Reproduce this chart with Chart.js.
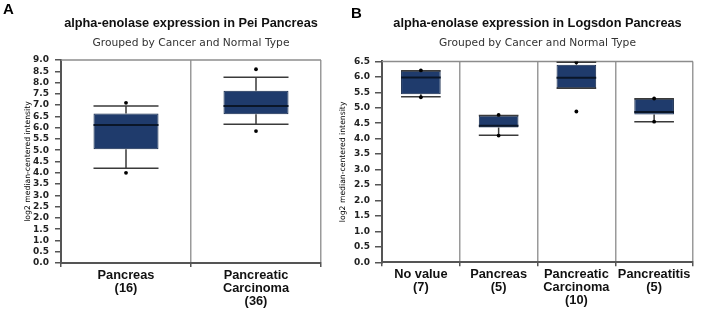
<!DOCTYPE html>
<html><head><meta charset="utf-8">
<script src="https://cdn.jsdelivr.net/npm/chart.js@4.4.1/dist/chart.umd.min.js"></script>
<style>
html,body{margin:0;padding:0;background:#fff;width:701px;height:309px;overflow:hidden;}
.wrap{position:absolute;top:0;height:309px;}
.lbl{position:absolute;z-index:2;font:bold 15px "Liberation Sans",Arial,sans-serif;color:#000;line-height:15px;}
</style></head><body>
<div class="wrap" style="left:0;width:330px"><canvas id="cA" width="330" height="309"></canvas></div>
<div class="wrap" style="left:330px;width:371px"><canvas id="cB" width="371" height="309"></canvas></div>
<div class="lbl" style="left:3px;top:1px">A</div>
<div class="lbl" style="left:351px;top:5px">B</div>
<script>
const titleA = "alpha-enolase expression in Pei Pancreas";
const titleB = "alpha-enolase expression in Logsdon Pancreas";
const subtitleText = "Grouped by Cancer and Normal Type";
const yTitleText = "log2 median-centered intensity";

// Panel A
const catsA = [["Pancreas","(16)"],["Pancreatic","Carcinoma","(36)"]];
const whiskerLowA  = [4.20, 6.15];
const q1A          = [5.04, 6.59];
const medianA      = [6.12, 6.96];
const q3A          = [6.63, 7.64];
const whiskerHighA = [6.96, 8.23];
const outlierLowA  = [4.00, 5.85];
const outlierHighA = [7.10, 8.59];
const yMaxA = 9.0;

// Panel B
const catsB = [["No value","(7)"],["Pancreas","(5)"],["Pancreatic","Carcinoma","(10)"],["Pancreatitis","(5)"]];
const whiskerLowB  = [5.36, 4.11, 5.63, 4.55];
const q1B          = [5.44, 4.36, 5.63, 4.78];
const medianB      = [5.98, 4.42, 5.97, 4.86];
const q3B          = [6.20, 4.75, 6.39, 5.29];
const whiskerHighB = [6.20, 4.75, 6.47, 5.29];
const outlierLowB  = [5.34, 4.10, 4.88, 4.55];
const outlierHighB = [6.21, 4.77, 6.47, 5.30];
const yMaxB = 6.5;
const yStep = 0.5;

function makeBoxChart(id, o) {
  const parts = {
    id: 'boxparts',
    beforeDatasetsDraw(chart) {
      const {ctx, chartArea: a} = chart;
      ctx.save();
      ctx.strokeStyle = '#8c8c8c'; ctx.lineWidth = 1.5;
      ctx.beginPath(); ctx.moveTo(a.left, a.top); ctx.lineTo(a.right, a.top); ctx.stroke();
      ctx.restore();
    },
    afterDatasetDraw(chart, args) {
      if (args.index !== 0) return;
      const y = chart.scales.y, ctx = chart.ctx;
      const py = v => y.getPixelForValue(v);
      args.meta.data.forEach((bar, i) => {
        const x = bar.x, hw = bar.width / 2;
        ctx.save();
        ctx.strokeStyle = '#3a3a3a'; ctx.lineWidth = 1.5;
        ctx.beginPath();
        if (o.hi[i] > o.q3[i]) { ctx.moveTo(x, py(o.q3[i])); ctx.lineTo(x, py(o.hi[i])); }
        if (o.lo[i] < o.q1[i]) { ctx.moveTo(x, py(o.q1[i])); ctx.lineTo(x, py(o.lo[i])); }
        ctx.moveTo(x - hw, py(o.hi[i])); ctx.lineTo(x + hw, py(o.hi[i]));
        ctx.moveTo(x - hw, py(o.lo[i])); ctx.lineTo(x + hw, py(o.lo[i]));
        ctx.stroke();
        ctx.strokeStyle = '#0a1628'; ctx.lineWidth = 2;
        ctx.beginPath(); ctx.moveTo(x - hw, py(o.med[i])); ctx.lineTo(x + hw, py(o.med[i])); ctx.stroke();
        ctx.restore();
      });
    }
  };
  const pointDs = d => ({type: 'line', data: d, showLine: false, pointRadius: 1.9, pointBorderWidth: 0,
    pointBackgroundColor: '#000', order: 0});
  return new Chart(document.getElementById(id), {
    type: 'bar',
    data: {
      labels: o.cats,
      datasets: [
        {type: 'bar', data: o.q1.map((q, i) => [q, o.q3[i]]), backgroundColor: '#1f3b6c',
         borderColor: '#13284b', borderWidth: 1, borderSkipped: false,
         barPercentage: o.barPct, categoryPercentage: 1, order: 1},
        pointDs(o.outLo), pointDs(o.outHi)
      ]
    },
    options: {
      responsive: false, animation: false,
      layout: {padding: {left: 0, right: o.padRight, top: 0, bottom: 0}},
      plugins: {
        legend: {display: false}, tooltip: {enabled: false},
        title: {display: true, fullSize: false, text: o.title, color: '#111',
          font: {family: 'Liberation Sans', size: 12.75, weight: 'bold', lineHeight: 1.2},
          padding: {top: 15.35, bottom: 0}},
        subtitle: {display: true, fullSize: false, text: subtitleText, color: '#333',
          font: {family: 'DejaVu Sans', size: 10.7, lineHeight: 1.2},
          padding: {top: 6.43, bottom: o.subBottom}}
      },
      scales: {
        x: {
          afterFit(s) { s.height = o.xHeight; },
          border: {color: '#555', width: 2},
          grid: {offset: true, color: '#9a9a9a', tickColor: '#555', lineWidth: 1.5, tickLength: 4},
          ticks: {padding: 2, color: '#111', maxRotation: 0, autoSkip: false,
            font: {family: 'Liberation Sans', size: 12.8, weight: 'bold', lineHeight: 1.02}}
        },
        y: {
          min: 0, max: o.yMax,
          afterFit(s) { s.width = o.yWidth; },
          border: {color: '#555', width: 2},
          grid: {drawOnChartArea: false, drawTicks: true, tickLength: o.tickLen, color: '#555', lineWidth: 1.5},
          ticks: {stepSize: yStep, autoSkip: false, padding: o.tickPad, color: '#222',
            font: {family: 'DejaVu Sans', size: 9, weight: 'bold'},
            callback: v => Number(v).toFixed(1)},
          title: {display: true, text: yTitleText, color: '#000',
            font: {family: 'DejaVu Sans', size: 7.7, lineHeight: 1.2},
            padding: {top: o.yTitlePad, bottom: 0}}
        }
      }
    },
    plugins: [parts]
  });
}

makeBoxChart('cA', {cats: catsA, lo: whiskerLowA, q1: q1A, med: medianA, q3: q3A, hi: whiskerHighA,
  outLo: outlierLowA, outHi: outlierHighA, yMax: yMaxA, title: titleA, barPct: 0.5,
  padRight: 9, subBottom: 10.08, xHeight: 46, yWidth: 61, tickLen: 6, tickPad: 6, yTitlePad: 23.4});
makeBoxChart('cB', {cats: catsB, lo: whiskerLowB, q1: q1B, med: medianB, q3: q3B, hi: whiskerHighB,
  outLo: outlierLowB, outHi: outlierHighB, yMax: yMaxB, title: titleB, barPct: 0.51,
  padRight: 8, subBottom: 11.5, xHeight: 46.7, yWidth: 52, tickLen: 7, tickPad: 5, yTitlePad: 8.4});
</script>
</body></html>
